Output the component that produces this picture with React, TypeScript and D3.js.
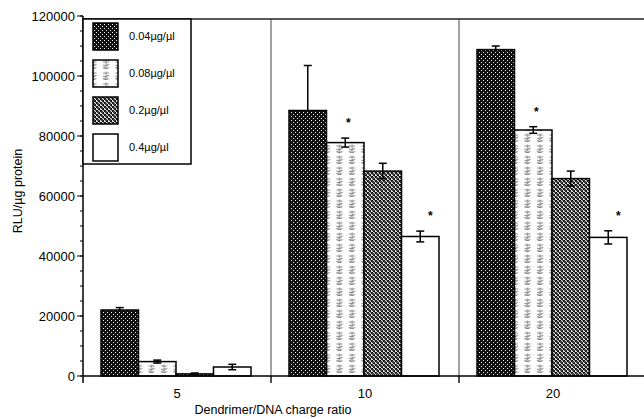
import React from "react";
import * as d3 from "d3";

const categories = ["5", "10", "20"];
const series = ["0.04µg/µl", "0.08µg/µl", "0.2µg/µl", "0.4µg/µl"];
const values: number[][] = [
  [22000, 4800, 700, 3000],
  [88500, 77800, 68300, 46500],
  [108800, 82000, 65800, 46200],
];
const errors: number[][] = [
  [800, 500, 300, 900],
  [15000, 1500, 2600, 1800],
  [1200, 1100, 2500, 2200],
];
const stars: boolean[][] = [
  [false, false, false, false],
  [false, true, false, true],
  [false, true, false, true],
];
const yTicks = [0, 20000, 40000, 60000, 80000, 100000, 120000];

const W = 644, H = 419;
const left = 83, right = 647, top = 16, bottom = 376;

export default function App() {
  const y = d3.scaleLinear().domain([0, 120000]).range([bottom, top]);
  const x0 = d3.scaleBand<string>().domain(categories).range([left, right]).padding(0);
  const gw = x0.bandwidth();
  const x1 = d3.scaleBand<string>().domain(series).range([18, 168]).padding(0);
  const minor = d3.range(0, 120001, 5000);
  const fills = ["url(#p1)", "url(#p2)", "url(#p3)", "#fff"];
  const font = "Liberation Sans, Arial, sans-serif";

  return (
    <svg width={W} height={H} style={{ position: "absolute", left: 0, top: 0 }} fontFamily={font}>
      <defs>
        <pattern id="p1" width={4} height={4} patternUnits="userSpaceOnUse">
          <rect width={4} height={4} fill="#111" />
          <rect x={0} y={0} width={1} height={1} fill="#eee" />
          <rect x={2} y={2} width={1} height={1} fill="#eee" />
        </pattern>
        <pattern id="p2" width={12.5} height={11} patternUnits="userSpaceOnUse">
          <rect width={12.5} height={11} fill="#fff" />
          <path d="M3,3h6 M6,1.5v7 M3,6l6,2.5 M9,5l-6,4 M4,9.5h4" stroke="#8a8a8a" strokeWidth={1} fill="none" />
        </pattern>
        <pattern id="p3" width={4} height={4} patternUnits="userSpaceOnUse">
          <rect width={4} height={4} fill="#e0e0e0" />
          <rect x={0} y={0} width={2} height={2} fill="#111" />
          <rect x={2} y={2} width={2} height={2} fill="#111" />
          <rect x={1} y={1} width={2} height={2} fill="#444" />
          <rect x={3} y={0} width={1} height={1} fill="#777" />
        </pattern>
      </defs>
      <rect width={W} height={H} fill="#fff" />

      {/* separators */}
      {categories.slice(1).map((c) => (
        <line key={c} x1={x0(c)!} x2={x0(c)!} y1={19} y2={383} stroke="#444" strokeWidth={1} />
      ))}
      {/* top frame */}
      <line x1={left} x2={right} y1={19} y2={19} stroke="#222" strokeWidth={1.5} />

      {/* bars */}
      {categories.map((c, gi) => (
        <g key={c} transform={`translate(${x0(c)},0)`}>
          {series.map((s, si) => {
            const v = values[gi][si];
            const e = errors[gi][si];
            const bx = x1(s)!;
            const bw = x1.bandwidth();
            const cx = bx + bw / 2;
            const lo = si === 0 ? v : Math.max(0, v - e);
            return (
              <g key={s}>
                <rect x={bx} y={y(v)} width={bw} height={bottom - y(v)} fill={fills[si]} stroke="#000" strokeWidth={1.5} />
                <line x1={cx} x2={cx} y1={y(v + e)} y2={y(lo)} stroke="#000" strokeWidth={1.5} />
                <line x1={cx - 4} x2={cx + 4} y1={y(v + e)} y2={y(v + e)} stroke="#000" strokeWidth={1.5} />
                {si !== 0 && (
                  <line x1={cx - 4} x2={cx + 4} y1={y(lo)} y2={y(lo)} stroke="#000" strokeWidth={1.5} />
                )}
                {stars[gi][si] && (
                  <text x={cx + (si === 3 ? 10 : 3)} y={y(v + e) - 11} textAnchor="middle" fontSize={12} fontWeight="bold">*</text>
                )}
              </g>
            );
          })}
        </g>
      ))}

      {/* x axis */}
      <line x1={left} x2={right} y1={bottom} y2={bottom} stroke="#000" strokeWidth={1.5} />
      {categories.slice(1).map((c) => (
        <line key={c} x1={x0(c)!} x2={x0(c)!} y1={bottom} y2={383} stroke="#000" strokeWidth={1} />
      ))}
      {categories.map((c) => (
        <text key={c} x={x0(c)! + gw / 2} y={398} textAnchor="middle" fontSize={13}>{c}</text>
      ))}
      <text x={273} y={414} textAnchor="middle" fontSize={12.5}>Dendrimer/DNA charge ratio</text>

      {/* y axis */}
      <line x1={left} x2={left} y1={top} y2={383} stroke="#000" strokeWidth={1.5} />
      {minor.map((t) => (
        <line key={t} x1={left - 3} x2={left} y1={y(t)} y2={y(t)} stroke="#000" strokeWidth={1} />
      ))}
      {yTicks.map((t) => (
        <g key={t}>
          <line x1={left - 6} x2={left} y1={y(t)} y2={y(t)} stroke="#000" strokeWidth={1} />
          <text x={left - 8} y={y(t) + 4.5} textAnchor="end" fontSize={13}>{t}</text>
        </g>
      ))}
      <text transform={`translate(22,191) rotate(-90)`} textAnchor="middle" fontSize={12.5}>RLU/µg protein</text>

      {/* legend */}
      <rect x={left} y={19} width={108} height={145} fill="#fff" stroke="#000" strokeWidth={1.5} />
      {series.map((s, i) => (
        <g key={s} transform={`translate(0,${i * 37})`}>
          <rect x={93} y={23} width={25} height={27} fill={fills[i]} stroke="#000" strokeWidth={1.5} />
          <text x={129} y={40} fontSize={11}>{s}</text>
        </g>
      ))}
    </svg>
  );
}
